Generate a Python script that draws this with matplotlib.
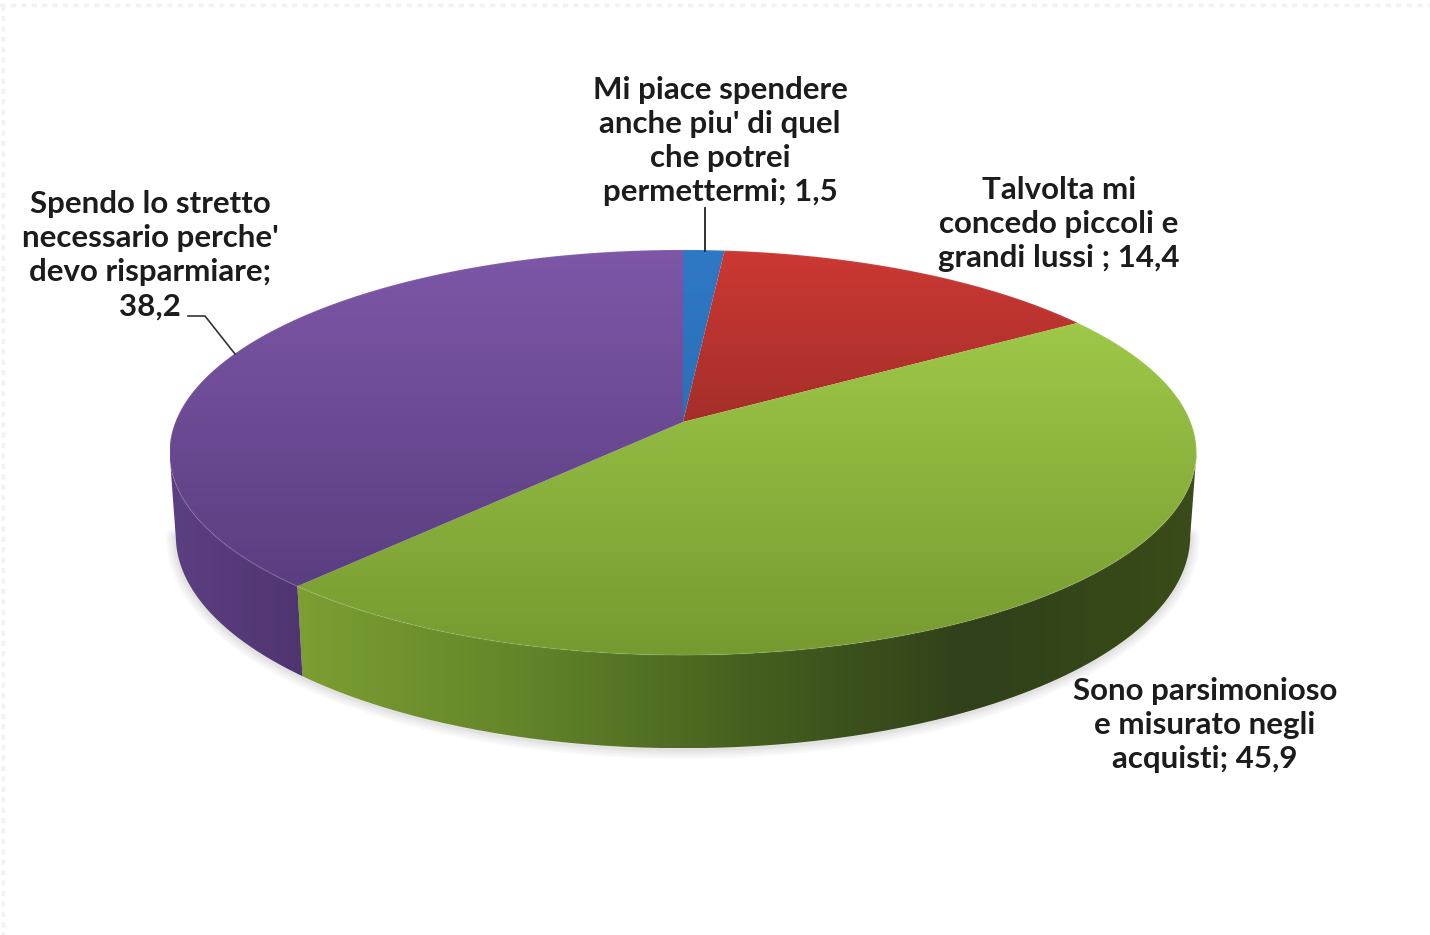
import numpy as np
import matplotlib
matplotlib.use('Agg')
import matplotlib.pyplot as plt
from matplotlib.colors import LinearSegmentedColormap
from matplotlib.patches import PathPatch
from matplotlib.path import Path

labels = ["Mi piace spendere\nanche piu' di quel\nche potrei\npermettermi; ",
          "Talvolta mi\nconcedo piccoli e\ngrandi lussi ; ",
          "Sono parsimonioso\ne misurato negli\nacquisti; ",
          "Spendo lo stretto\nnecessario perche'\ndevo risparmiare;\n"]
values = [1.5, 14.4, 45.9, 38.2]

top_colors = [["#2F78C4", "#2A70B8"],
              ["#CC3833", "#A52E2A"],
              ["#9EC848", "#769A30"],
              ["#7E57A8", "#5A3E80"]]
wall_colors = [["#2A6CB0", "#2A6CB0"],
               ["#8A2A26", "#8A2A26"],
               ["#7C9E32", "#64842A", "#45601E", "#30401A", "#3A4C18"],
               ["#5C3F82", "#4F3570"]]
label_pos = [(720, 141), (1059, 224), (1205, 725), (150, 255)]

# perspective of the pie, pixels of the 1430x935 picture
cx, cy = 683, 422
rx, ry = 507.6, 198.0
persp = 0.1506
drop = 83.0
drop_w = 0.012


def project(theta, lower=False):
    # theta runs clockwise from the top of the pie
    x = np.sin(theta)
    y = -np.cos(theta)
    w = 1 - persp * y
    if lower:
        w = w + drop_w
        return cx + rx * x / w, cy + (ry * y + drop) / w
    return cx + rx * x / w, cy + ry * y / w


def gradient_fill(ax, verts, colors, vertical=True, zorder=2):
    verts = np.array(verts)
    path = Path(verts, closed=False)
    patch = PathPatch(path, facecolor='none', edgecolor='none', zorder=zorder)
    ax.add_patch(patch)
    cmap = LinearSegmentedColormap.from_list('g', colors)
    ramp = np.linspace(0, 1, 256)
    ramp = ramp[:, None] if vertical else ramp[None, :]
    xmin, ymin = verts.min(axis=0)
    xmax, ymax = verts.max(axis=0)
    im = ax.imshow(ramp, cmap=cmap, extent=(xmin, xmax, ymax, ymin), origin='upper',
                   aspect='auto', zorder=zorder, vmin=0, vmax=1, interpolation='bilinear')
    im.set_clip_path(patch)


fig = plt.figure(figsize=(14.3, 9.35), dpi=100)
ax = fig.add_axes([0, 0, 1, 1])
ax.axis('off')

edges = np.concatenate([[0], np.cumsum(values)]) / sum(values) * 2 * np.pi
# the wall is seen between the two widest points of the rim
front_start = np.arccos(-persp)
front_end = 2 * np.pi - front_start

# soft shadow under the lower rim
t = np.linspace(front_start, front_end, 300)
sx, sy = project(t, lower=True)
for lw in [14, 11, 8, 5, 3]:
    ax.plot(sx, sy + 1, color='#555555', lw=lw, alpha=0.035, zorder=1, solid_capstyle='round')

# walls
for i in range(len(values)):
    start = max(edges[i], front_start)
    end = min(edges[i + 1], front_end)
    if start >= end:
        continue
    t = np.linspace(start, end, 200)
    ux, uy = project(t)
    lx, ly = project(t, lower=True)
    verts = np.column_stack([np.concatenate([ux, lx[::-1]]), np.concatenate([uy, ly[::-1]])])
    gradient_fill(ax, verts, wall_colors[i], vertical=False, zorder=2)

# top face
for i in range(len(values)):
    t = np.linspace(edges[i], edges[i + 1], 200)
    ux, uy = project(t)
    verts = np.column_stack([np.concatenate([[cx], ux, [cx]]), np.concatenate([[cy], uy, [cy]])])
    gradient_fill(ax, verts, top_colors[i], vertical=True, zorder=3)
    # small bevel along the rim
    ax.plot(ux, uy, color='white', lw=1.5, alpha=0.06, zorder=4)

# leader lines
ax.plot([705, 705], [208, 251], color='#222222', lw=1.3, zorder=5)
ax.plot([188, 205, 235], [316, 316, 354], color='#333333', lw=1.2, zorder=5)

# faint dotted edge of the slide
ax.plot([0, 1430], [5, 5], color='#F2F2F2', lw=2.5, ls=(0, (1.5, 1.5)), zorder=0)
ax.plot([3, 3], [5, 935], color='#F2F2F2', lw=2.5, ls=(0, (1.5, 1.5)), zorder=0)

for lab, val, pos in zip(labels, values, label_pos):
    txt = lab + f"{val:.1f}".replace('.', ',')
    ax.text(pos[0], pos[1], txt, ha='center', va='center', multialignment='center',
            family=['Lato', 'DejaVu Sans'], fontsize=22.5, weight='bold', color='#1C1C1C',
            linespacing=1.27, zorder=6)

ax.set_xlim(0, 1430)
ax.set_ylim(935, 0)
fig.savefig('out.png', dpi=100, facecolor='white')
